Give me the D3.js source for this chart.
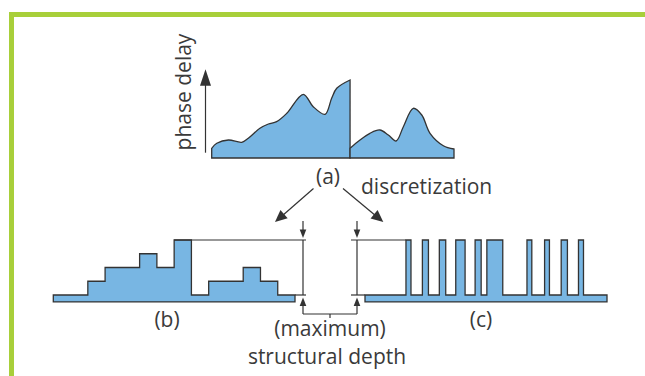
<!DOCTYPE html>
<html>
<head>
<meta charset="utf-8">
<script src="https://cdn.jsdelivr.net/npm/d3@7"></script>
<style>
  html, body { margin: 0; padding: 0; background: #fff; }
  text { font-family: "Open Sans", sans-serif; fill: #3a3a3a; font-size: 21px; }
</style>
</head>
<body>
<div id="chart"></div>
<script>
(function() {
"use strict"

var width = 645, height = 376;

// (a) continuous phase profile: position (0..100) and phase delay
var profileLeftX  = [0, 2.1, 6.9, 12.4, 15.1, 19.9, 23.4, 26.8, 31, 37.8, 41.9, 46.8, 49.5, 51.6, 57.1];
var profileLeftY  = [9.7, 14.7, 18, 15.7, 19.7, 29.7, 34, 36.3, 44.7, 63.7, 51.3, 43.7, 59.7, 69.7, 78];
var profileRightX = [57.1, 61.2, 65.3, 69.4, 72.9, 76.1, 79.1, 83.2, 86.7, 90.1, 95.6, 100];
var profileRightY = [9.7, 18, 24.7, 28, 23, 17, 31.3, 49.7, 43, 24.7, 12.3, 9];

// (b) multilevel discretization: level per unit cell
var levelsB = [0, 0, 1, 2, 2, 3, 2, 4, 0, 1, 1, 2, 1, 0];

// (c) binary discretization: pillar edges in unit cells
var pillarStart = [2.37, 3.32, 4.30, 5.25, 6.37, 7.05, 9.37, 10.39, 11.35, 12.35];
var pillarEnd   = [2.66, 3.67, 4.67, 5.79, 6.72, 7.97, 9.65, 10.67, 11.71, 12.64];

var labels = {a: "(a)", b: "(b)", c: "(c)", axis: "phase delay",
              disc: "discretization", depth1: "(maximum)", depth2: "structural depth"};

var fillBlue = "#78b6e3", ink = "#333", green = "#a8cf3a";

var svg = d3.select("#chart").append("svg")
    .attr("width", width)
    .attr("height", height);

// green frame
svg.append("path")
    .attr("d", "M11.5,376 V14.5 H645")
    .style("fill", "none")
    .style("stroke", green)
    .style("stroke-width", 5);

// arrowhead helper: tip at (x,y), pointing along angle
function arrowHead(g, x, y, ang, len, half) {
    var c = Math.cos(ang), s = Math.sin(ang);
    var bx = x - c * len, by = y - s * len;
    var pts = [[x, y], [bx - s * half, by + c * half], [bx + s * half, by - c * half]];
    g.append("path")
        .attr("d", "M" + pts.join("L") + "Z")
        .style("fill", ink);
}
function line(g, x1, y1, x2, y2) {
    g.append("line")
        .attr("x1", x1).attr("y1", y1).attr("x2", x2).attr("y2", y2)
        .style("stroke", ink).style("stroke-width", 1.2);
}

// ---- (a) ----
var xA = d3.scaleLinear().domain([0, 100]).range([211.7, 454]);
var yA = d3.scaleLinear().domain([0, 80]).range([158, 78]);
var areaA = d3.area()
    .x(function(d) { return xA(d[0]); })
    .y0(yA(0))
    .y1(function(d) { return yA(d[1]); })
    .curve(d3.curveCatmullRom.alpha(0.5));
var ga = svg.append("g");
[[profileLeftX, profileLeftY], [profileRightX, profileRightY]].forEach(function(s) {
    var pts = s[0].map(function(x, i) { return [x, s[1][i]]; });
    ga.append("path")
        .attr("d", areaA(pts))
        .style("fill", fillBlue)
        .style("stroke", ink)
        .style("stroke-width", 1.3)
        .style("stroke-linejoin", "miter");
});
// phase delay axis
line(ga, 205.5, 152.7, 205.5, 84);
arrowHead(ga, 205.5, 69.3, -Math.PI / 2, 16.5, 5.5);
ga.append("text")
    .attr("transform", "translate(191,92) rotate(-90)")
    .style("text-anchor", "middle")
    .text(labels.axis);
ga.append("text")
    .attr("x", 328).attr("y", 184)
    .style("text-anchor", "middle")
    .text(labels.a);
ga.append("text")
    .attr("x", 361).attr("y", 194)
    .text(labels.disc);
// discretization arrows
line(ga, 313.5, 188.5, 282, 216);
arrowHead(ga, 275, 222, Math.atan2(222 - 188.5, 275 - 313.5), 12, 5.5);
line(ga, 343, 188.5, 376, 216);
arrowHead(ga, 383.3, 222, Math.atan2(222 - 188.5, 383.3 - 343), 12, 5.5);

// ---- (b) and (c) ----
var y = d3.scaleLinear().domain([0, 4]).range([295, 240]);
var xB = d3.scaleLinear().domain([0, 14]).range([53.3, 295]);
var xC = d3.scaleLinear().domain([0, 14]).range([365, 607]);

function stepArea(xs) {
    return d3.area()
        .x(function(d) { return xs(d[0]); })
        .y0(y(-0.5))
        .y1(function(d) { return y(d[1]); })
        .curve(d3.curveStepAfter);
}
var ptsB = levelsB.map(function(v, i) { return [i, v]; });
ptsB.push([levelsB.length, levelsB[levelsB.length - 1]]);
var ptsC = [[0, 0]];
pillarStart.forEach(function(s, i) { ptsC.push([s, 4]); ptsC.push([pillarEnd[i], 0]); });
ptsC.push([14, 0]);

var gb = svg.append("g");
[[ptsB, xB], [ptsC, xC]].forEach(function(p) {
    gb.append("path")
        .attr("d", stepArea(p[1])(p[0]))
        .style("fill", fillBlue)
        .style("stroke", ink)
        .style("stroke-width", 1.3);
});

// dimension lines for structural depth
var dL = 303, dR = 357;
line(gb, xB(7), y(4), dL + 3, y(4));
line(gb, xB(14), y(0), dL + 3, y(0));
line(gb, dR - 6, y(4), xC(pillarStart[0]), y(4));
line(gb, dR - 6, y(0), xC(0), y(0));
line(gb, dL, y(4), dL, y(0));
line(gb, dR, y(4), dR, y(0));
// down arrows at top
line(gb, dL, 221, dL, 232);
arrowHead(gb, dL, 238, Math.PI / 2, 8.5, 3.3);
line(gb, dR, 221, dR, 232);
arrowHead(gb, dR, 238, Math.PI / 2, 8.5, 3.3);
// up arrows at bottom with bracket
line(gb, dL, 305, dL, 314);
arrowHead(gb, dL, 297.5, -Math.PI / 2, 8.5, 3.3);
line(gb, dR, 305, dR, 314);
arrowHead(gb, dR, 297.5, -Math.PI / 2, 8.5, 3.3);
line(gb, dL, 314, dR, 314);
line(gb, (dL + dR) / 2, 314, (dL + dR) / 2, 318);

gb.append("text")
    .attr("x", 167).attr("y", 327)
    .style("text-anchor", "middle")
    .text(labels.b);
gb.append("text")
    .attr("x", 481).attr("y", 327)
    .style("text-anchor", "middle")
    .text(labels.c);
gb.append("text")
    .attr("x", 330).attr("y", 336)
    .style("text-anchor", "middle")
    .text(labels.depth1);
gb.append("text")
    .attr("x", 327).attr("y", 364)
    .style("text-anchor", "middle")
    .text(labels.depth2);
})();
</script>
</body>
</html>
